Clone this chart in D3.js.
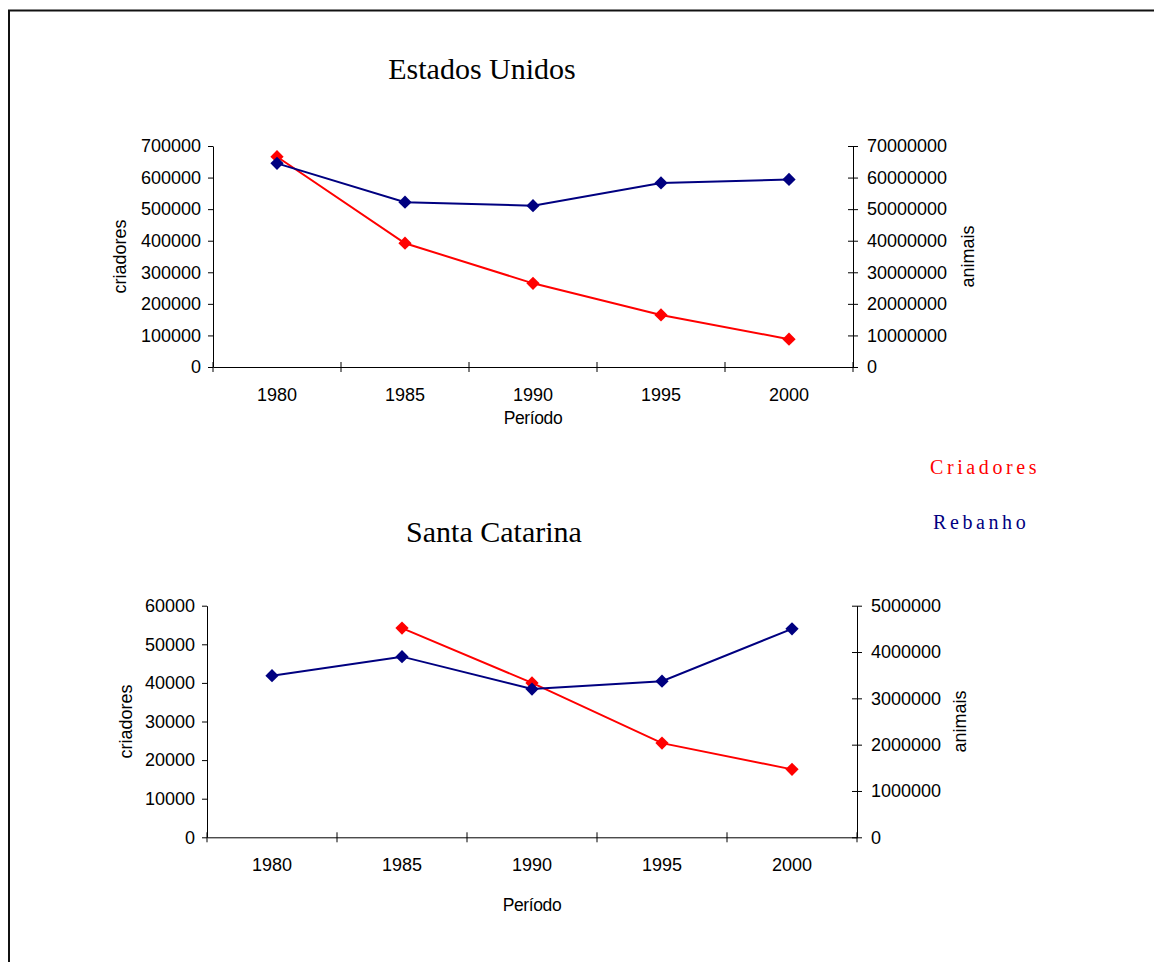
<!DOCTYPE html>
<html>
<head>
<meta charset="utf-8">
<script src="https://cdn.jsdelivr.net/npm/d3@7"></script>
<style>
  html, body { margin: 0; padding: 0; background: #fff; }
  svg { display: block; }
</style>
</head>
<body>
<script>
// ---- Data ----
const periods = ["1980", "1985", "1990", "1995", "2000"];

const usCriadores = [666000, 392000, 265000, 165000, 88000];
const usRebanho = [64500000, 52200000, 51100000, 58300000, 59400000];
const usLeftTicks = [0, 100000, 200000, 300000, 400000, 500000, 600000, 700000];
const usRightTicks = [0, 10000000, 20000000, 30000000, 40000000, 50000000, 60000000, 70000000];

const scCriadores = [null, 54200, 40000, 24400, 17600];
const scRebanho = [3490000, 3900000, 3200000, 3370000, 4500000];
const scLeftTicks = [0, 10000, 20000, 30000, 40000, 50000, 60000];
const scRightTicks = [0, 1000000, 2000000, 3000000, 4000000, 5000000];

const titles = ["Estados Unidos", "Santa Catarina"];
const legendLabels = ["Criadores", "Rebanho"];
const colCriadores = "#ff0000";
const colRebanho = "#000080";

const W = 1154, H = 962;
const svg = d3.select("body").append("svg").attr("width", W).attr("height", H);

// outer frame
svg.append("path")
  .attr("d", `M9,${H + 5} L9,10.5 L${W + 5},10.5`)
  .attr("fill", "none").attr("stroke", "#111").attr("stroke-width", 2);

const sans = "'Liberation Sans', Arial, sans-serif";
const serif = "'Liberation Serif', 'Times New Roman', serif";
const fs = 18;

function drawChart(cfg) {
  const g = svg.append("g");
  const x = d3.scaleBand().domain(periods).range([cfg.left, cfg.right]);
  const yL = d3.scaleLinear().domain([0, cfg.leftTicks[cfg.leftTicks.length - 1]]).range([cfg.bottom, cfg.top]);
  const yR = d3.scaleLinear().domain([0, cfg.rightTicks[cfg.rightTicks.length - 1]]).range([cfg.bottom, cfg.top]);
  const cx = p => x(p) + x.bandwidth() / 2;

  // title
  g.append("text").attr("x", cfg.titleX).attr("y", cfg.titleY)
    .attr("text-anchor", "middle").attr("font-family", serif).attr("font-size", 30)
    .text(cfg.title);

  // left axis
  const ax = g.append("g").attr("transform", `translate(${cfg.left},0)`)
    .call(d3.axisLeft(yL).tickValues(cfg.leftTicks).tickSize(5).tickSizeOuter(0).tickPadding(7).tickFormat(d3.format("d")));
  ax.selectAll("text").attr("font-family", sans).attr("font-size", fs).attr("fill", "#000");
  ax.select(".domain").attr("stroke", "#000");

  // right axis
  const ar = g.append("g").attr("transform", `translate(${cfg.right},0)`)
    .call(d3.axisRight(yR).tickValues(cfg.rightTicks).tickSize(5).tickSizeOuter(0).tickPadding(9).tickFormat(d3.format("d")));
  ar.selectAll(".tick line").attr("x1", -5);
  ar.selectAll("text").attr("font-family", sans).attr("font-size", fs).attr("fill", "#000");
  ar.select(".domain").attr("stroke", "#000");

  // bottom category axis
  const ab = g.append("g").attr("transform", `translate(0,${cfg.bottom})`)
    .call(d3.axisBottom(x).tickSize(0).tickSizeOuter(0).tickPadding(cfg.catPad));
  ab.selectAll("text").attr("font-family", sans).attr("font-size", fs).attr("fill", "#000");
  ab.select(".domain").attr("stroke", "#000");
  const bounds = periods.map(p => x(p)).concat([x.range()[1]]);
  ab.selectAll(".bnd").data(bounds).join("line").attr("class", "bnd")
    .attr("x1", d => d).attr("x2", d => d).attr("y1", -5).attr("y2", 5)
    .attr("stroke", "#000");

  // axis titles
  g.append("text").attr("transform", `translate(${cfg.leftLabelX},${(cfg.top + cfg.bottom) / 2}) rotate(-90)`)
    .attr("text-anchor", "middle").attr("dy", "0.35em")
    .attr("font-family", sans).attr("font-size", fs).text("criadores");
  g.append("text").attr("transform", `translate(${cfg.rightLabelX},${(cfg.top + cfg.bottom) / 2}) rotate(-90)`)
    .attr("text-anchor", "middle").attr("dy", "0.35em")
    .attr("font-family", sans).attr("font-size", fs).text("animais");
  g.append("text").attr("x", cfg.xLabelX).attr("y", cfg.xLabelY).attr("dy", "0.35em")
    .attr("text-anchor", "middle").attr("font-family", sans).attr("font-size", 17.5)
    .attr("letter-spacing", -0.4).text("Período");

  // series
  function series(vals, yScale, color) {
    const pts = periods.map((p, i) => ({ p, v: vals[i] })).filter(d => d.v != null);
    g.append("path").datum(pts)
      .attr("d", d3.line().x(d => cx(d.p)).y(d => yScale(d.v)))
      .attr("fill", "none").attr("stroke", color).attr("stroke-width", 2);
    g.selectAll(null).data(pts).join("path")
      .attr("d", d3.symbol().type(d3.symbolSquare).size(88)())
      .attr("transform", d => `translate(${cx(d.p)},${yScale(d.v)}) rotate(45)`)
      .attr("fill", color);
  }
  series(cfg.criadores, yL, colCriadores);
  series(cfg.rebanho, yR, colRebanho);
}

drawChart({
  title: titles[0], titleX: 482, titleY: 79,
  left: 213, right: 853, top: 146, bottom: 367,
  leftTicks: usLeftTicks, rightTicks: usRightTicks,
  criadores: usCriadores, rebanho: usRebanho,
  catPad: 21, leftLabelX: 120, rightLabelX: 968,
  xLabelX: 533, xLabelY: 418
});

drawChart({
  title: titles[1], titleX: 494, titleY: 542,
  left: 207, right: 857, top: 605.7, bottom: 837.3,
  leftTicks: scLeftTicks, rightTicks: scRightTicks,
  criadores: scCriadores, rebanho: scRebanho,
  catPad: 21, leftLabelX: 126, rightLabelX: 960,
  xLabelX: 532, xLabelY: 905
});

// legend
svg.append("text").attr("x", 930).attr("y", 467).attr("dy", "0.35em")
  .attr("font-family", serif).attr("font-size", 20).attr("letter-spacing", 3.6)
  .attr("fill", colCriadores).text(legendLabels[0]);
svg.append("text").attr("x", 933).attr("y", 522).attr("dy", "0.35em")
  .attr("font-family", serif).attr("font-size", 20).attr("letter-spacing", 3.6)
  .attr("fill", colRebanho).text(legendLabels[1]);
</script>
</body>
</html>
